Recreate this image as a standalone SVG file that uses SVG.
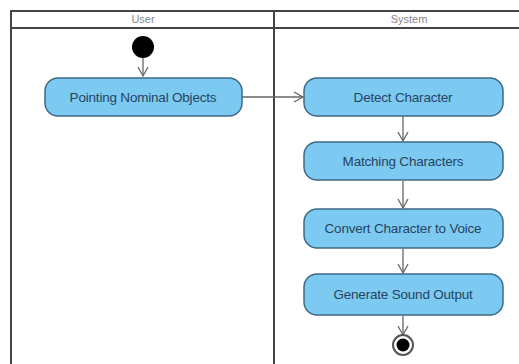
<svg xmlns="http://www.w3.org/2000/svg" width="519" height="364" viewBox="0 0 519 364">
<defs>
<style>
.lane{fill:none;stroke:#444;stroke-width:2}
.hdr{font-family:"Liberation Sans",Arial,sans-serif;font-size:11px;fill:#888;text-anchor:middle}
.act{fill:#7ccaf2;stroke:#3f6a85;stroke-width:1.5}
.lbl{font-family:"Liberation Sans",Arial,sans-serif;font-size:13.5px;fill:#27445f;text-anchor:middle;letter-spacing:-0.2px}
.edge{fill:none;stroke:#666;stroke-width:1.3}
</style>
<marker id="arr" markerWidth="12" markerHeight="12" refX="10" refY="6" orient="auto" markerUnits="userSpaceOnUse">
<path d="M1,1 L10,6 L1,11" fill="none" stroke="#666" stroke-width="1.3"/>
</marker>
</defs>
<rect width="519" height="364" fill="#fff"/>
<g id="lanes">
<path class="lane" d="M11,364 V11 H519"/>
<path class="lane" d="M11,28 H519"/>
<path class="lane" d="M274,11 V364"/>
<text class="hdr" x="143" y="23">User</text>
<text class="hdr" x="409" y="23">System</text>
</g>
<g id="connectors">
<path class="edge" d="M143,58 V76" marker-end="url(#arr)"/>
<path class="edge" d="M242,97 H303" marker-end="url(#arr)"/>
<path class="edge" d="M403,116 V141" marker-end="url(#arr)"/>
<path class="edge" d="M403,181 V208" marker-end="url(#arr)"/>
<path class="edge" d="M403,249 V273" marker-end="url(#arr)"/>
<path class="edge" d="M403,316 V335" marker-end="url(#arr)"/>
</g>
<g id="start"><circle cx="143" cy="47" r="11" fill="#000"/></g>
<g id="pointing"><rect class="act" x="45" y="78" width="197" height="38" rx="13"/><text class="lbl" x="143" y="102">Pointing Nominal Objects</text></g>
<g id="detect"><rect class="act" x="304" y="78" width="199" height="38" rx="13"/><text class="lbl" x="403" y="102">Detect Character</text></g>
<g id="matching"><rect class="act" x="304" y="142" width="199" height="38" rx="13"/><text class="lbl" x="403" y="166">Matching Characters</text></g>
<g id="convert"><rect class="act" x="304" y="209" width="199" height="39" rx="13"/><text class="lbl" x="403" y="233">Convert Character to Voice</text></g>
<g id="generate"><rect class="act" x="304" y="274" width="199" height="41" rx="13"/><text class="lbl" x="403" y="299">Generate Sound Output</text></g>
<g id="end"><circle cx="403" cy="345" r="10" fill="#fff" stroke="#555" stroke-width="2"/><circle cx="403" cy="345" r="6.5" fill="#000"/></g>
</svg>
